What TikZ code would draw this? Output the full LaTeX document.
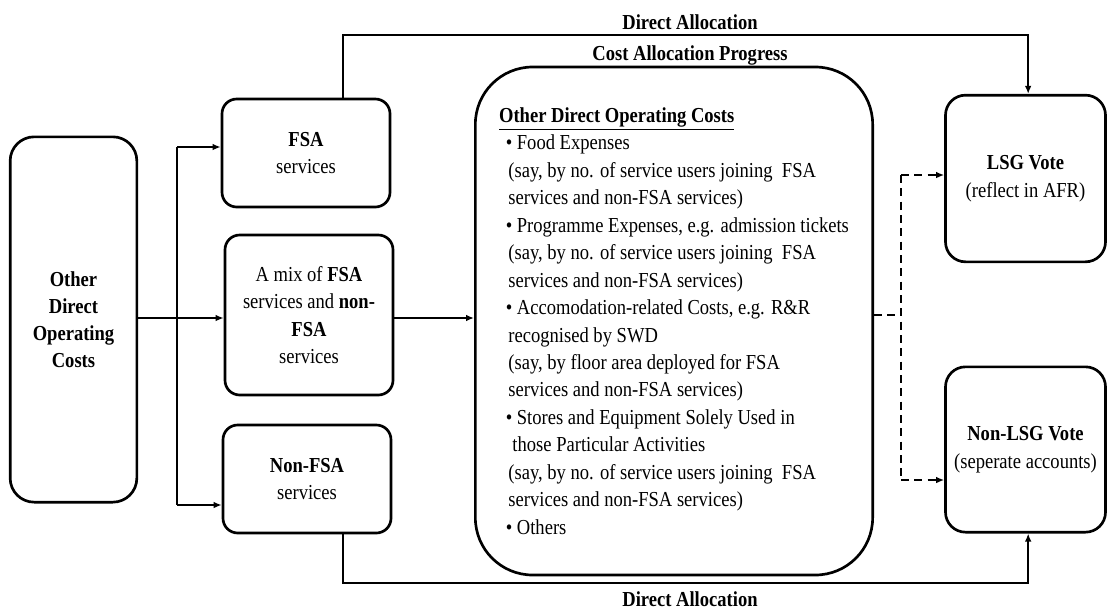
\documentclass[tikz,border=0pt]{standalone}
\usepackage{fontspec}
\setmainfont{Liberation Serif}[FakeStretch=0.87]
\usetikzlibrary{arrows.meta}

\begin{document}
\begin{tikzpicture}[x=0.75pt, y=-0.75pt, >={Latex[length=6pt,width=5pt]},
		font=\fontsize{16}{20.6}\selectfont,
		costbox/.style={draw=black, line width=2pt, rounded corners=11pt, align=center, inner sep=2pt},
		conn/.style={black, line width=1.4pt},
		alloc/.style={black, line width=1.8pt},
		dashconn/.style={black, line width=1.4pt, dash pattern=on 6pt off 4pt},
		lbl/.style={font=\fontsize{16}{17}\selectfont\bfseries}]
			\useasboundingbox (0,0) rectangle (1108,615);
			
			\node[costbox, rounded corners=18pt, minimum width=95pt, minimum height=274pt, font=\fontsize{16}{20.4}\selectfont\bfseries] (odc) at (73.5,319.5) {Other\\ Direct\\ Operating\\ Costs};
			
			\node[costbox, minimum width=126pt, minimum height=81pt] (fsa) at (306,153) {\textbf{FSA}\\ services};
			\node[costbox, minimum width=126pt, minimum height=120pt] (mix) at (309,315) {A mix of \textbf{FSA}\\ services and \textbf{non-}\\ \textbf{FSA}\\ services};
			\node[costbox, minimum width=126pt, minimum height=81pt] (nonfsa) at (307,479) {\textbf{Non-FSA}\\ services};
			
			\node[costbox, rounded corners=43pt, minimum width=298pt, minimum height=381pt, align=left] (big) at (674,321) {\underline{\textbf{Other Direct Operating Costs}}\\
				\hspace*{5pt}\textbullet\ Food Expenses\\
				\hspace*{7pt}(say, by no. of service users joining\ \ FSA\\
				\hspace*{7pt}services and non-FSA services)\\
				\hspace*{5pt}\textbullet\ Programme Expenses, e.g. admission tickets\\
				\hspace*{7pt}(say, by no. of service users joining\ \ FSA\\
				\hspace*{7pt}services and non-FSA services)\\
				\hspace*{5pt}\textbullet\ Accomodation-related Costs, e.g. R\&R\\
				\hspace*{7pt}recognised by SWD\\
				\hspace*{7pt}(say, by floor area deployed for FSA\\
				\hspace*{7pt}services and non-FSA services)\\
				\hspace*{5pt}\textbullet\ Stores and Equipment Solely Used in\\
				\hspace*{10pt}those Particular Activities\\
				\hspace*{7pt}(say, by no. of service users joining\ \ FSA\\
				\hspace*{7pt}services and non-FSA services)\\
				\hspace*{5pt}\textbullet\ Others};
			
			\node[costbox, rounded corners=15pt, minimum width=120pt, minimum height=125pt] (lsg) at (1025.5,178.5) {\textbf{LSG Vote}\\ (reflect in AFR)};
			\node[costbox, rounded corners=15pt, minimum width=120pt, minimum height=124pt] (nonlsg) at (1025.5,449.5) {\textbf{Non-LSG Vote}\\ (seperate accounts)};
			
			\node[lbl] (lbltop) at (690,22) {Direct Allocation};
			\node[lbl] (lblprog) at (690,55) {Cost Allocation Progress};
			\node[lbl] (lblbot) at (690,599) {Direct Allocation};
			
			\coordinate (tfsa) at (177,147);
			\coordinate (tmix) at (177,318);
			\coordinate (tnon) at (177,505);
			\draw [conn] (odc.east |- tmix) -- (tmix);
			\draw [conn] (tfsa) -- (tnon);
			\draw [->][conn] (tfsa) -- (tfsa -| fsa.west);
			\draw [->][conn] (tmix) -- (tmix -| mix.west);
			\draw [->][conn] (tnon) -- (tnon -| nonfsa.west);
			\draw [->][conn] (mix.east |- tmix) -- (tmix -| big.west);
			
			\coordinate (atop) at (343,35);
			\coordinate (abot) at (343,583);
			\draw [->][alloc] (fsa.north -| atop) -- (atop) -| ([xshift=2pt]lsg.north);
			\draw [->][alloc] (nonfsa.south -| abot) -- (abot) -| ([xshift=2pt]nonlsg.south);
			
			\coordinate (dmid) at (901,315);
			\coordinate (dtop) at (901,175);
			\coordinate (dbot) at (901,480);
			\draw [dashconn] (big.east |- dmid) -- (dmid);
			\draw [dashconn] (dtop) -- (dbot);
			\draw [->][dashconn] (dtop) -- (dtop -| lsg.west);
			\draw [->][dashconn] (dbot) -- (dbot -| nonlsg.west);
		
		\end{tikzpicture}
\end{document}
